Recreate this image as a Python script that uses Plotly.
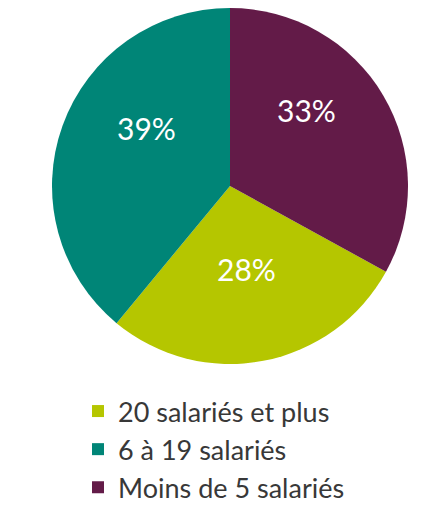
import math
import plotly.graph_objects as go

labels = ["20 salariés et plus", "6 à 19 salariés", "Moins de 5 salariés"]
values = [28, 39, 33]
colors = ["#b5c600", "#008577", "#631b48"]
text_labels = ["28%", "39%", "33%"]

W, H = 446, 507
cx, cy, r = 222, 178, 178
start_angle = 118.8  # degrees clockwise from 12 o'clock

fig = go.Figure(go.Pie(
    labels=labels,
    values=values,
    textinfo="none",
    marker=dict(colors=colors, line=dict(width=0)),
    sort=False,
    direction="clockwise",
    rotation=start_angle,
    hole=0,
    domain=dict(x=[(cx - r) / W, (cx + r) / W], y=[1 - (cy + r) / H, 1 - (cy - r) / H]),
))

# percentage labels placed around the mid-angle of each slice
total = sum(values)
acc = 0.0
annotations = []
for v, t in zip(values, text_labels):
    mid = start_angle + (acc + v / 2) / total * 360.0
    acc += v
    a = math.radians(mid)
    px = cx + 0.5 * r * math.sin(a)
    py = cy - 0.6 * r * math.cos(a) - 22
    annotations.append(dict(
        x=px / W, y=1 - py / H, xref="paper", yref="paper",
        text=t, showarrow=False,
        font=dict(color="white", size=30, family="Lato"),
        xanchor="center", yanchor="middle",
    ))

fig.update_layout(
    width=W, height=H,
    margin=dict(l=0, r=0, t=0, b=0),
    paper_bgcolor="white",
    plot_bgcolor="white",
    showlegend=True,
    annotations=annotations,
    legend=dict(
        x=0.157, y=(H - 379) / H, xanchor="left", yanchor="top",
        font=dict(size=27, color="#383838", family="Lato"),
        traceorder="normal",
        itemsizing="constant",
        bgcolor="rgba(0,0,0,0)",
    ),
)

fig.write_html("out.html")
